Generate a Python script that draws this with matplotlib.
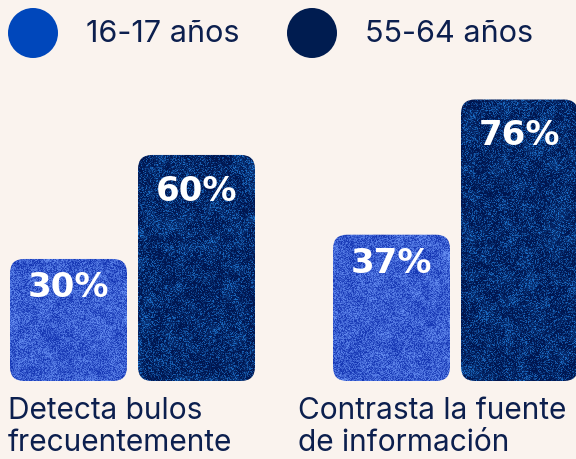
import numpy as np
import matplotlib
matplotlib.use("Agg")
import matplotlib.pyplot as plt
from matplotlib.patches import FancyBboxPatch, Circle

# data
groups = ["16-17 años", "55-64 años"]
categories = ["Detecta bulos\nfrecuentemente", "Contrasta la fuente\nde información"]
young = [30, 37]
older = [60, 76]
series = [young, older]

# style
bg = "#FAF3EE"
text_col = "#0C1F4E"
legend_cols = ["#0047BB", "#001C50"]
grain_lo = [np.array([22, 55, 180]), np.array([0, 22, 80])]
grain_hi = [np.array([100, 140, 240]), np.array([30, 115, 205])]
grain_pow = [1.0, 2.5]

W, H = 576, 459
fig = plt.figure(figsize=(W / 100, H / 100), dpi=100, facecolor=bg)

# bar axes: x in pixels, y in percent
base = -5.2
px_per_unit = 3.467
ax_bottom_px = 381
ymax = 100
ax = fig.add_axes([0, (H - ax_bottom_px) / H, 1, (ymax - base) * px_per_unit / H])
ax.set_xlim(0, W)
ax.set_ylim(base, ymax)
ax.axis("off")
ax.set_facecolor("none")

x0 = 10
group_step = 323
bar_step = 128
bar_w = 117
radius = 14
aspect = 1 / px_per_unit
label_drop = [12, 20]


def smooth(a, k):
    # simple box blur for soft blotches
    out = a.copy()
    for _ in range(2):
        p = np.pad(out, k, mode="edge")
        c = np.cumsum(np.cumsum(p, 0), 1)
        c = np.pad(c, ((1, 0), (1, 0)))
        s = 2 * k + 1
        out = (c[s:, s:] - c[:-s, s:] - c[s:, :-s] + c[:-s, :-s]) / (s * s)
    return out


rng = np.random.default_rng(3)
for g in range(len(categories)):
    for k, vals in enumerate(series):
        v = vals[g]
        left = x0 + g * group_step + k * bar_step
        patch = FancyBboxPatch((left, base), bar_w, v - base,
                               boxstyle="round,pad=0,rounding_size=%d" % radius,
                               mutation_aspect=aspect, facecolor="none",
                               edgecolor="none", clip_on=False)
        ax.add_patch(patch)
        # grainy texture
        nh = int((v - base) * px_per_unit) + 1
        nw = bar_w
        n = rng.random((nh, nw)) ** grain_pow[k]
        blot = smooth(rng.random((nh, nw)), 3)
        blot = (blot - blot.mean()) / (blot.std() + 1e-9)
        n = np.clip(n * 0.9 + 0.08 * blot, 0, 1)
        img = grain_lo[k][None, None, :] + n[:, :, None] * (grain_hi[k] - grain_lo[k])[None, None, :]
        im = ax.imshow(img.astype(np.uint8), extent=(left, left + bar_w, base, v),
                       aspect="auto", interpolation="nearest", zorder=1, clip_on=True)
        im.set_clip_path(patch)
        ax.text(left + bar_w / 2, v - label_drop[k] / px_per_unit, "%d%%" % v,
                ha="center", va="top", color="white", fontsize=24.5,
                fontweight="bold", family="DejaVu Sans", zorder=3)

# overlay in pixel coordinates for legend and category labels
ov = fig.add_axes([0, 0, 1, 1])
ov.set_xlim(0, W)
ov.set_ylim(H, 0)
ov.axis("off")
ov.set_facecolor("none")

leg_x = [33, 312]
for i, name in enumerate(groups):
    ov.add_patch(Circle((leg_x[i], 33), 25, color=legend_cols[i], lw=0))
    ov.text(leg_x[i] + 53, 34, name, ha="left", va="center", color=text_col,
            fontsize=22, family="Inter")

for g, cat in enumerate(categories):
    ov.text(x0 - 2 + g * (group_step - 33), 397, cat, ha="left", va="top",
            color=text_col, fontsize=21.5, family="Inter", linespacing=1.2)

fig.savefig("out.png", dpi=100, facecolor=bg)
